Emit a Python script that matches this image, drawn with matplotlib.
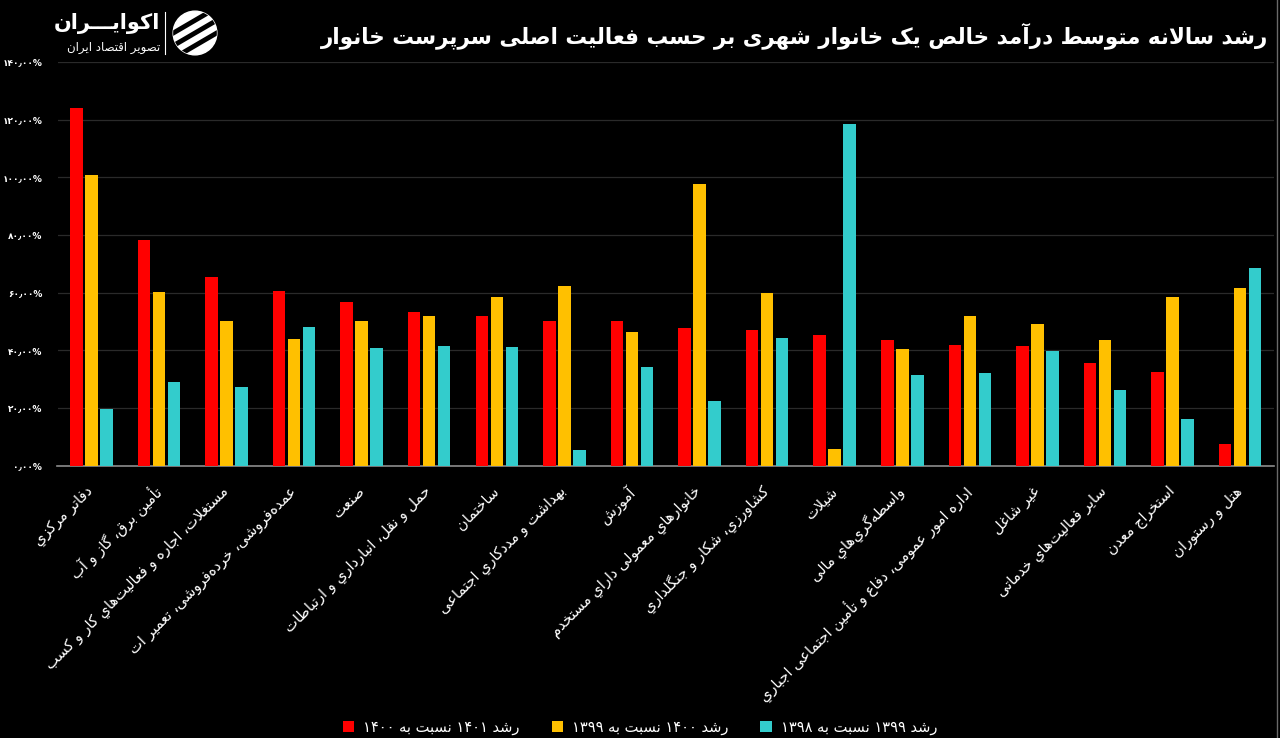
import re
import numpy as np
import matplotlib
matplotlib.use('Agg')
import matplotlib.pyplot as plt
from matplotlib.patches import Patch, Circle
from matplotlib.lines import Line2D
from matplotlib.ticker import FuncFormatter

# data (percent growth)
categories = [
    'دفاتر مرکزي',
    'تأمین برق، گاز و آب',
    'مستغلات، اجاره و فعالیت\u200cهاي کار و کسب',
    'عمده\u200cفروشی، خرده\u200cفروشی، تعمیر ات',
    'صنعت',
    'حمل و نقل، انبارداري و ارتباطات',
    'ساختمان',
    'بهداشت و مددکاري اجتماعی',
    'آموزش',
    'خانوارهاي معمولی داراي مستخدم',
    'کشاورزي، شکار و جنگلداري',
    'شیلات',
    'واسطه\u200cگري\u200cهاي مالی',
    'اداره امور عمومی، دفاع و تأمین اجتماعی اجباري',
    'غیر شاغل',
    'سایر فعالیت\u200cهاي خدماتی',
    'استخراج معدن',
    'هتل و رستوران',
]
growth_1401 = [124.2, 78.3, 65.3, 60.5, 56.9, 53.1, 51.9, 50.3, 50.0, 47.6, 46.9, 45.3, 43.5, 41.9, 41.5, 35.5, 32.4, 7.5]
growth_1400 = [100.9, 60.1, 50.3, 44.0, 50.0, 51.7, 58.5, 62.3, 46.3, 97.5, 59.8, 5.8, 40.5, 51.8, 49.1, 43.6, 58.3, 61.5]
growth_1399 = [19.6, 29.0, 27.3, 48.1, 40.9, 41.4, 41.1, 5.5, 34.2, 22.4, 44.4, 118.4, 31.4, 32.0, 39.8, 26.2, 16.1, 68.4]
series_labels = ['رشد ۱۴۰۱ نسبت به ۱۴۰۰', 'رشد ۱۴۰۰ نسبت به ۱۳۹۹', 'رشد ۱۳۹۹ نسبت به ۱۳۹۸']
colors = ['#FF0000', '#FFC000', '#33CCCC']
title = 'رشد سالانه متوسط درآمد خالص یک خانوار شهری بر حسب فعالیت اصلی سرپرست خانوار'

# --- minimal arabic/persian shaping (no arabic_reshaper available) ---
# char -> (first presentation form, number of forms: iso, fin, ini, med)
FORMS = {
    '\u0621': (0xFE80, 1), '\u0622': (0xFE81, 2), '\u0623': (0xFE83, 2), '\u0624': (0xFE85, 2),
    '\u0625': (0xFE87, 2), '\u0626': (0xFE89, 4), '\u0627': (0xFE8D, 2), '\u0628': (0xFE8F, 4),
    '\u0629': (0xFE93, 2), '\u062A': (0xFE95, 4), '\u062B': (0xFE99, 4), '\u062C': (0xFE9D, 4),
    '\u062D': (0xFEA1, 4), '\u062E': (0xFEA5, 4), '\u062F': (0xFEA9, 2), '\u0630': (0xFEAB, 2),
    '\u0631': (0xFEAD, 2), '\u0632': (0xFEAF, 2), '\u0633': (0xFEB1, 4), '\u0634': (0xFEB5, 4),
    '\u0635': (0xFEB9, 4), '\u0636': (0xFEBD, 4), '\u0637': (0xFEC1, 4), '\u0638': (0xFEC5, 4),
    '\u0639': (0xFEC9, 4), '\u063A': (0xFECD, 4), '\u0641': (0xFED1, 4), '\u0642': (0xFED5, 4),
    '\u0643': (0xFED9, 4), '\u0644': (0xFEDD, 4), '\u0645': (0xFEE1, 4), '\u0646': (0xFEE5, 4),
    '\u0647': (0xFEE9, 4), '\u0648': (0xFEED, 2), '\u0649': (0xFEEF, 2), '\u064A': (0xFEF1, 4),
    '\u067E': (0xFB56, 4), '\u0686': (0xFB7A, 4), '\u0698': (0xFB8A, 2), '\u06A9': (0xFB8E, 4),
    '\u06AF': (0xFB92, 4), '\u06CC': (0xFBFC, 4),
}
LAM_ALEF = {'\u0627': 0xFEFB, '\u0622': 0xFEF5, '\u0623': 0xFEF7, '\u0625': 0xFEF9}
KASHIDA = '\u0640'
DIGITS = r'[0-9\u06f0-\u06f9]+'


def links_next(c):
    return c == KASHIDA or (c in FORMS and FORMS[c][1] == 4)


def links_prev(c):
    return c == KASHIDA or (c in FORMS and FORMS[c][1] >= 2)


def shape(text):
    out = []
    i, n = 0, len(text)
    while i < n:
        c = text[i]
        prev = text[i - 1] if i > 0 else ''
        p = links_next(prev) and links_prev(c)
        if c == '\u0644' and i + 1 < n and text[i + 1] in LAM_ALEF:
            out.append(chr(LAM_ALEF[text[i + 1]] + (1 if p else 0)))
            i += 2
            continue
        if c in FORMS:
            base, k = FORMS[c]
            nxt = text[i + 1] if i + 1 < n else ''
            q = k == 4 and links_prev(nxt)
            if k == 1:
                f = 0
            elif p and q:
                f = 3
            elif p:
                f = 1
            elif q:
                f = 2
            else:
                f = 0
            out.append(chr(base + f))
        elif c != '\u200c':
            out.append(c)
        i += 1
    s = ''.join(out)
    parts = re.split('(' + DIGITS + ')', s)
    return ''.join(t if re.fullmatch(DIGITS, t) else t[::-1] for t in reversed(parts))


def to_fa(s):
    return s.translate(str.maketrans('0123456789.', '۰۱۲۳۴۵۶۷۸۹٫'))


plt.rcParams['font.family'] = ['DejaVu Sans']

W, H = 1280, 738
fig = plt.figure(figsize=(12.8, 7.38), dpi=100, facecolor='black')

ax = fig.add_axes([57.5 / W, 1 - 465.5 / H, (1274 - 57.5) / W, (465.5 - 62) / H])
ax.set_facecolor('black')

x = np.arange(len(categories))
step, bw = 0.222, 0.185
for k, (vals, col) in enumerate(zip([growth_1401, growth_1400, growth_1399], colors)):
    ax.bar(x + (k - 1) * step, vals, width=bw, color=col, zorder=3)

ax.set_xlim(-0.5, len(categories) - 0.5)
ax.set_ylim(0, 140)
ax.set_yticks(np.arange(0, 141, 20))
ax.yaxis.set_major_formatter(FuncFormatter(lambda v, _: to_fa(f'{v:.2f}') + '%'))
ax.grid(axis='y', color='#2a2a2a', linewidth=0.9, zorder=0)
for sp in ['top', 'right', 'left']:
    ax.spines[sp].set_visible(False)
ax.spines['bottom'].set_color('#8c8c8c')
ax.spines['bottom'].set_linewidth(1.2)
ax.tick_params(axis='y', length=0, pad=11, colors='white', labelsize=6.5)
for t in ax.get_yticklabels():
    t.set_fontweight('bold')
ax.tick_params(axis='x', length=0, pad=17, colors='white')
ax.set_xticks(x)
ax.set_xticklabels([shape(c) for c in categories], rotation=45, ha='right', va='center',
                   rotation_mode='anchor', fontsize=10.5, color='white')

# title
fig.text(1268 / W, 1 - 36 / H, shape(title), ha='right', va='center', fontsize=15.5,
         fontweight='bold', color='white')

# legend
handles = [Patch(facecolor=c) for c in colors]
fig.legend(handles, [shape(s) for s in series_labels], loc='center', bbox_to_anchor=(0.5, 1 - 727 / H),
           ncol=3, frameon=False, fontsize=10.5, labelcolor='white', handlelength=0.8, handleheight=0.8,
           columnspacing=2.2, handletextpad=0.6)

# logo
fig.text(160 / W, 1 - 24 / H, shape('اکوایـــران'), ha='right', va='center', fontsize=15,
         fontweight='bold', color='white')
fig.text(160 / W, 1 - 47 / H, shape('تصویر اقتصاد ایران'), ha='right', va='center', fontsize=8.5,
         color='white')
fig.add_artist(Line2D([165 / W, 165 / W], [1 - 12 / H, 1 - 54 / H], color='white', linewidth=0.8))
lax = fig.add_axes([172 / W, 1 - 56 / H, 46 / W, 46 / H])
lax.set_xlim(-1, 1)
lax.set_ylim(-1, 1)
lax.set_aspect('equal')
lax.axis('off')
circ = Circle((0, 0), 0.95, color='white')
lax.add_patch(circ)
for off in [-0.55, 0.0, 0.55]:
    ln, = lax.plot([-1.2, 1.2], [off - 0.7, off + 0.7], color='black', linewidth=3.5)
    ln.set_clip_path(circ)

# right border
fig.add_artist(Line2D([1277 / W, 1277 / W], [0, 1], color='#6a6a6a', linewidth=1))

fig.savefig('out.png', dpi=100, facecolor='black')
